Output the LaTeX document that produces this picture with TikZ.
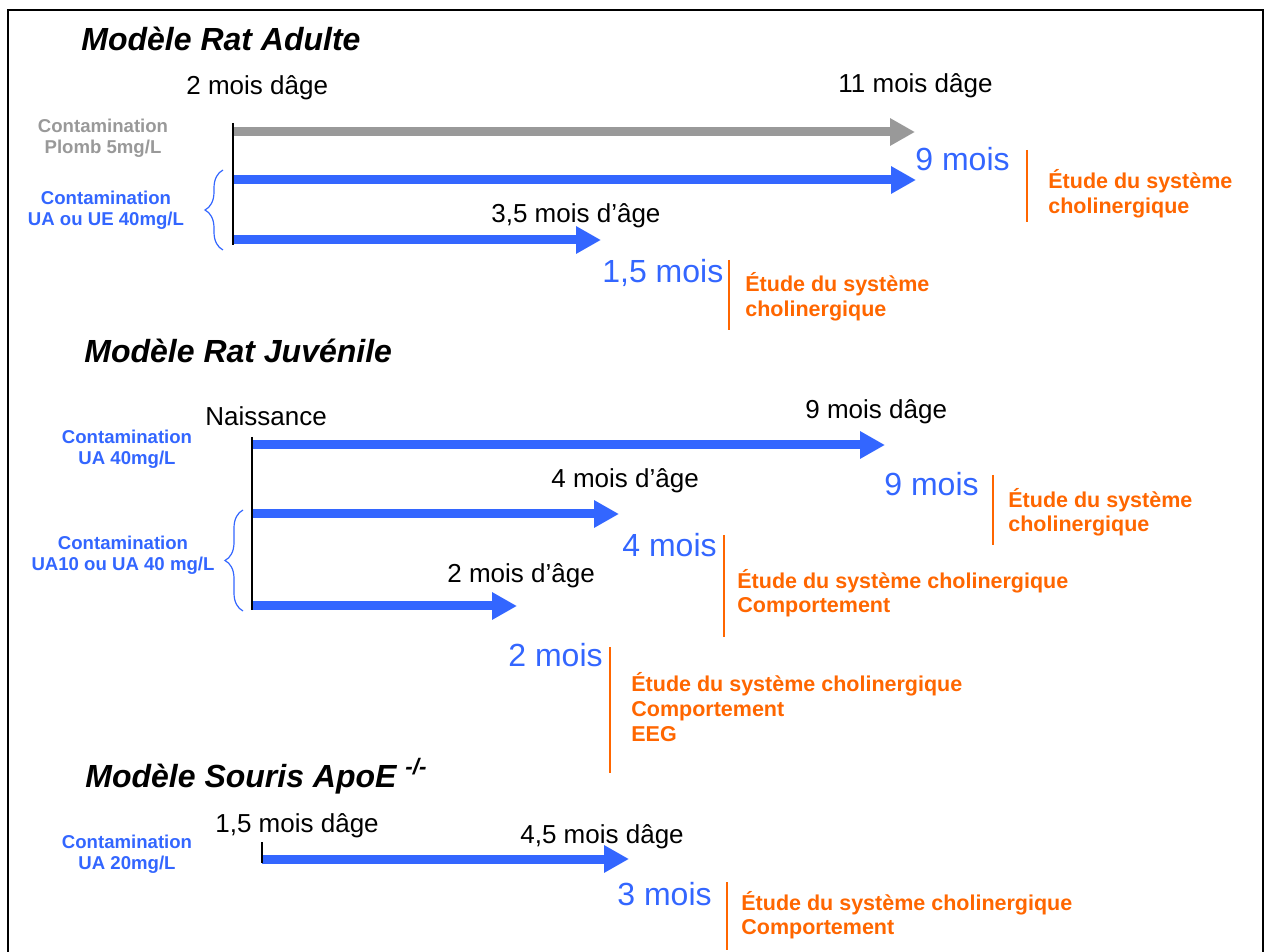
\documentclass[tikz,border=0pt]{standalone}
\usepackage{fontspec}
\setmainfont{Liberation Sans}
\usetikzlibrary{arrows.meta,decorations.pathreplacing}
\definecolor{uaBlue}{HTML}{3366FF}
\definecolor{pbGray}{HTML}{999999}
\definecolor{etudeOrange}{HTML}{FF6600}
\tikzstyle{titleText}=[anchor=base west, inner sep=0pt, font=\fontsize{16}{19}\selectfont\bfseries\itshape]
\tikzstyle{ageText}=[anchor=base west, inner sep=0pt, font=\fontsize{13}{15}\selectfont]
\tikzstyle{dureeText}=[anchor=base west, inner sep=0pt, text=uaBlue, font=\fontsize{16}{19}\selectfont]
\tikzstyle{contamText}=[anchor=base, inner sep=0pt, align=center, font=\fontsize{9.3}{10.5}\selectfont\bfseries]
\tikzstyle{etudeText}=[anchor=base west, inner sep=0pt, align=left, text=etudeOrange, font=\fontsize{10.75}{12.5}\selectfont\bfseries]

\begin{document}
\begin{tikzpicture}[x = 0.5pt, y = -0.5pt]
\tikzstyle{expoArrow}=[line width = 4.5pt, -{Triangle[length = 12.5pt, width = 13pt]}]
\tikzstyle{startLine}=[line width = 1pt]
\tikzstyle{etudeLine}=[line width = 1pt, etudeOrange]
\tikzstyle{groupBrace}=[uaBlue, line width = 0.6pt, decorate, decoration = {brace, amplitude = 9pt}]
\useasboundingbox (0,0) rectangle (1266,952);
\draw[line width = 1.2pt] (8,952) -- (8,10) -- (1263,10) -- (1263,952);
% Rat adulte
\node[titleText] (titreAdulte) at (81,51) {Modèle Rat Adulte};
\node[ageText] (ageA2) at (186,95) {2 mois dâge};
\node[ageText] (ageA11) at (838,93) {11 mois dâge};
\node[contamText, text = pbGray] (contamPb) at (103,154) {Contamination\\Plomb 5mg/L};
\node[contamText, text = uaBlue] (contamUAa) at (106,226) {Contamination\\UA ou UE 40mg/L};
\coordinate (debA) at (233,123);
\coordinate (finA) at (233,245);
\coordinate (pbDeb) at (233,132);
\coordinate (pbFin) at (915,132);
\coordinate (uaDebA1) at (233,180);
\coordinate (uaFinA1) at (916,180);
\coordinate (uaDebA2) at (233,240);
\coordinate (uaFinA2) at (601,240);
\draw[expoArrow, pbGray] (pbDeb) -- (pbFin);
\draw[expoArrow, uaBlue] (uaDebA1) -- (uaFinA1);
\draw[expoArrow, uaBlue] (uaDebA2) -- (uaFinA2);
\draw[startLine] (debA) -- (finA);
\coordinate (accHautA) at (223,170);
\coordinate (accBasA) at (223,250);
\draw[groupBrace] (accBasA) -- (accHautA);
\node[dureeText] (dureeA9) at (915,171) {9 mois};
\coordinate (trA9h) at (1027,150);
\coordinate (trA9b) at (1027,222);
\draw[etudeLine] (trA9h) -- (trA9b);
\node[etudeText] (etudeA9) at (1048,214) {Étude du système\\cholinergique};
\node[ageText] (ageA35) at (491,223) {3,5 mois d’âge};
\node[dureeText] (dureeA15) at (602,283) {1,5 mois};
\coordinate (trA15h) at (729,260);
\coordinate (trA15b) at (729,330);
\draw[etudeLine] (trA15h) -- (trA15b);
\node[etudeText] (etudeA15) at (745,317) {Étude du système\\cholinergique};
% Rat juvenile
\node[titleText] (titreJuv) at (84,363) {Modèle Rat Juvénile};
\node[ageText] (naissance) at (205,426) {Naissance};
\node[contamText, text = uaBlue] (contamUAj1) at (127,465) {Contamination\\UA 40mg/L};
\node[contamText, text = uaBlue] (contamUAj2) at (123,571) {Contamination\\UA10 ou UA 40 mg/L};
\coordinate (debJ) at (252,437);
\coordinate (finJ) at (252,610);
\coordinate (uaDebJ1) at (252,445);
\coordinate (uaFinJ1) at (885,445);
\coordinate (uaDebJ2) at (252,514);
\coordinate (uaFinJ2) at (619,514);
\coordinate (uaDebJ3) at (252,606);
\coordinate (uaFinJ3) at (517,606);
\draw[expoArrow, uaBlue] (uaDebJ1) -- (uaFinJ1);
\draw[expoArrow, uaBlue] (uaDebJ2) -- (uaFinJ2);
\draw[expoArrow, uaBlue] (uaDebJ3) -- (uaFinJ3);
\draw[startLine] (debJ) -- (finJ);
\coordinate (accHautJ) at (243,510);
\coordinate (accBasJ) at (243,611);
\draw[groupBrace] (accBasJ) -- (accHautJ);
\node[ageText] (ageJ9) at (805,419) {9 mois dâge};
\node[dureeText] (dureeJ9) at (884,496) {9 mois};
\coordinate (trJ9h) at (993,475);
\coordinate (trJ9b) at (993,545);
\draw[etudeLine] (trJ9h) -- (trJ9b);
\node[etudeText] (etudeJ9) at (1008,532) {Étude du système\\cholinergique};
\node[ageText] (ageJ4) at (551,488) {4 mois d’âge};
\node[dureeText] (dureeJ4) at (622,557) {4 mois};
\coordinate (trJ4h) at (724,535);
\coordinate (trJ4b) at (724,637);
\draw[etudeLine] (trJ4h) -- (trJ4b);
\node[etudeText] (etudeJ4) at (737,613) {Étude du système cholinergique\\Comportement};
\node[ageText] (ageJ2) at (447,583) {2 mois d’âge};
\node[dureeText] (dureeJ2) at (508,667) {2 mois};
\coordinate (trJ2h) at (610,647);
\coordinate (trJ2b) at (610,773);
\draw[etudeLine] (trJ2h) -- (trJ2b);
\node[etudeText] (etudeJ2) at (631,741) {Étude du système cholinergique\\Comportement\\EEG};
% Souris ApoE
\node[titleText] (titreSouris) at (85,787) {Modèle Souris ApoE \textsuperscript{-/-}};
\node[ageText] (ageS15) at (215,833) {1,5 mois dâge};
\node[contamText, text = uaBlue] (contamUAs) at (127,870) {Contamination\\UA 20mg/L};
\coordinate (debS) at (262,842);
\coordinate (finS) at (262,863);
\coordinate (uaDebS) at (262,859);
\coordinate (uaFinS) at (629,859);
\draw[expoArrow, uaBlue] (uaDebS) -- (uaFinS);
\draw[startLine] (debS) -- (finS);
\node[ageText] (ageS45) at (520,843) {4,5 mois dâge};
\node[dureeText] (dureeS3) at (617,905) {3 mois};
\coordinate (trS3h) at (727,882);
\coordinate (trS3b) at (727,950);
\draw[etudeLine] (trS3h) -- (trS3b);
\node[etudeText] (etudeS3) at (741,935) {Étude du système cholinergique\\Comportement};
\end{tikzpicture}
\end{document}
